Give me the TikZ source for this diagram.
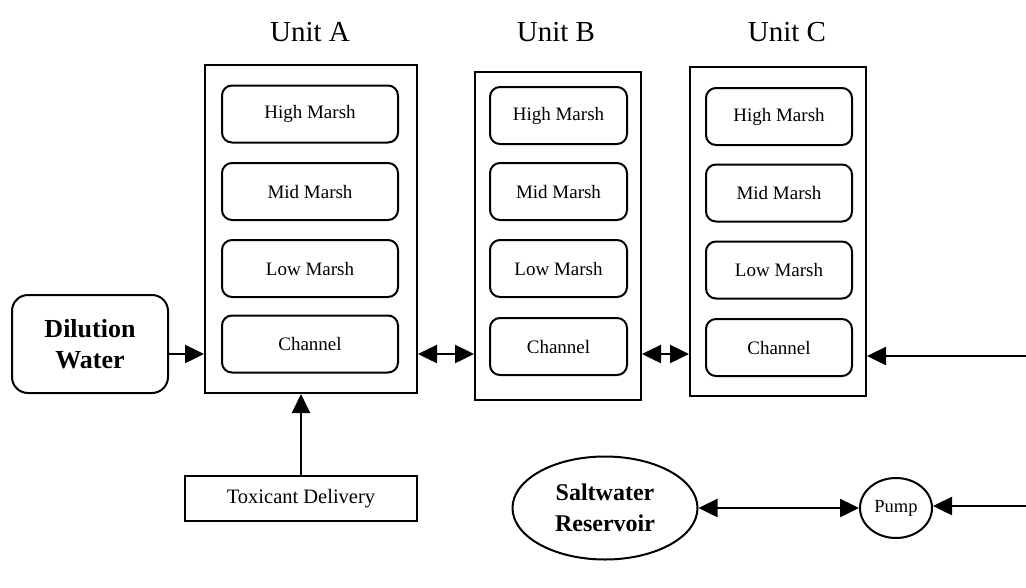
\documentclass[tikz,border=0pt]{standalone}
\usepackage{fontspec}
\setmainfont{Liberation Serif}
\usetikzlibrary{arrows.meta,shapes.geometric}
\begin{document}
\begin{tikzpicture}[x=1pt,y=-1pt,
  unitbox/.style={draw,line width=2pt,minimum width=#1,inner sep=0pt},
  zone/.style={draw,line width=2pt,rounded corners=10pt,inner sep=0pt,minimum height=57pt,font=\fontsize{19}{22}\selectfont},
  title/.style={font=\fontsize{29}{34}\selectfont},
  flow/.style={line width=2.5pt,-{Triangle[length=19pt,width=18pt]}},
  biflow/.style={line width=2.5pt,{Triangle[length=19pt,width=18pt]}-{Triangle[length=19pt,width=18pt]}},
  bigtext/.style={font=\bfseries\fontsize{26}{31}\selectfont,align=center}]
\useasboundingbox (0,0) rectangle (1026,587);
% titles
\node[title] (tA) at (310,32) {Unit A};
\node[title] (tB) at (556,32) {Unit B};
\node[title] (tC) at (787,32) {Unit C};
% unit boxes
\node[unitbox=212pt,minimum height=328pt] (A) at (311,229) {};
\node[unitbox=166pt,minimum height=328pt] (B) at (558,236) {};
\node[unitbox=176pt,minimum height=329pt] (C) at (778,231.5) {};
% unit A zones
\node[zone,minimum width=176pt] (Ah) at (310,114) {High Marsh};
\node[zone,minimum width=176pt] (Am) at (310,191.5) {Mid Marsh};
\node[zone,minimum width=176pt] (Al) at (310,268.5) {Low Marsh};
\node[zone,minimum width=176pt] (Ac) at (310,344) {Channel};
% unit B zones
\node[zone,minimum width=137pt] (Bh) at (558.5,115.5) {High Marsh};
\node[zone,minimum width=137pt] (Bm) at (558.5,191.5) {Mid Marsh};
\node[zone,minimum width=137pt] (Bl) at (558.5,268.5) {Low Marsh};
\node[zone,minimum width=137pt] (Bc) at (558.5,346.5) {Channel};
% unit C zones
\node[zone,minimum width=146pt] (Ch) at (779,116.5) {High Marsh};
\node[zone,minimum width=146pt] (Cm) at (779,193) {Mid Marsh};
\node[zone,minimum width=146pt] (Cl) at (779,270) {Low Marsh};
\node[zone,minimum width=146pt] (Cc) at (779,347.5) {Channel};
% dilution water
\node[draw,line width=2pt,rounded corners=16pt,minimum width=156pt,minimum height=98pt,inner sep=0pt,bigtext] (dw) at (90,344) {Dilution\\Water};
% toxicant delivery
\node[draw,line width=2pt,minimum width=232pt,minimum height=45pt,inner sep=0pt,font=\fontsize{20.5}{24}\selectfont] (tox) at (301,498.5) {Toxicant Delivery};
% saltwater reservoir and pump
\node[draw,line width=2pt,ellipse,minimum width=185pt,minimum height=103pt,inner sep=0pt,font=\bfseries\fontsize{24}{31}\selectfont,align=center] (sw) at (605,508) {Saltwater\\Reservoir};
\node[draw,line width=2pt,ellipse,minimum width=72pt,minimum height=60pt,inner sep=0pt,font=\fontsize{18.5}{20}\selectfont] (pump) at (896,508) {Pump};
% connectors
\coordinate (r1) at (0,354);
\coordinate (inC) at (1026,356);
\coordinate (inP) at (1026,506);
\draw[flow] (dw.east |- r1) -- (A.west |- r1);
\draw[biflow] (A.east |- r1) -- (B.west |- r1);
\draw[biflow] (B.east |- r1) -- (C.west |- r1);
\draw[flow] (inC) -- (C.east |- inC);
\draw[flow,line width=2pt] (tox.north) -- (A.south -| tox.north);
\draw[biflow] (sw.east) -- (pump.west);
\draw[flow] (inP) -- (pump.east |- inP);
\end{tikzpicture}
\end{document}
